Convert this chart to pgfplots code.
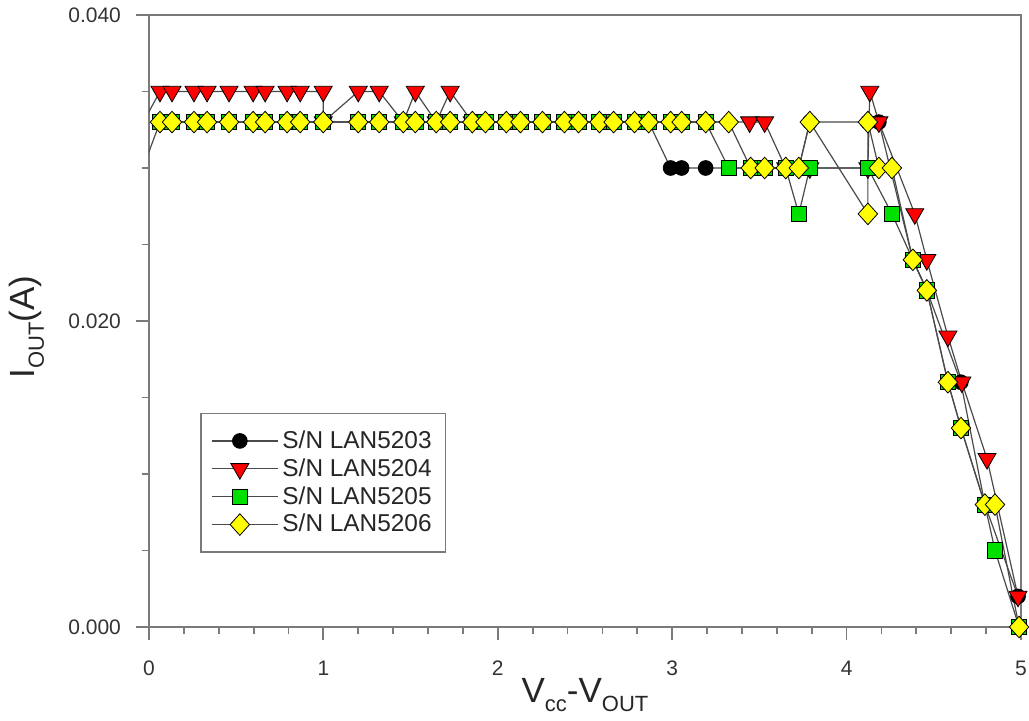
\documentclass[border=0pt]{standalone}
\usepackage{fontspec}
\setmainfont{Liberation Sans}
\usepackage{pgfplots}
\pgfplotsset{compat=1.18}

\definecolor{linegray}{HTML}{4A4A4A}
\definecolor{framegray}{HTML}{7A7A7A}
\definecolor{mkred}{HTML}{FF0000}
\definecolor{mkgreen}{HTML}{00E000}
\definecolor{mkyellow}{HTML}{FFFF00}

\newcommand\sub[1]{\raisebox{-4.5pt}{\fontsize{11}{12}\selectfont #1}}

\begin{document}
\begin{tikzpicture}
\path[use as bounding box] (-74.5pt,-47pt) rectangle (440pt,313.5pt);
\begin{axis}[
  at={(0pt,0pt)}, anchor=south west,
  scale only axis, width=436pt, height=306pt,
  xmin=0, xmax=5, ymin=0, ymax=0.04,
  xtick={0,1,2,3,4,5}, ytick={0,0.02,0.04},
  minor x tick num=4, minor y tick num=3,
  tick pos=left, tick align=outside,
  major tick length=6.5pt, minor tick length=3.5pt,
  axis line style={draw=framegray, line width=1pt},
  every tick/.style={framegray, line width=0.9pt},
  scaled y ticks=false,
  /pgf/number format/assume math mode=true,
  tick label style={font=\fontsize{10.5}{12}\selectfont, text=black!80},
  xticklabel style={yshift=-7pt},
  yticklabel style={xshift=-4pt, /pgf/number format/fixed,
    /pgf/number format/fixed zerofill, /pgf/number format/precision=3},
  xlabel={V\sub{cc}-V\sub{OUT}},
  ylabel={I\sub{OUT}(A)},
  label style={font=\fontsize{17.5}{19}\selectfont, text=black!85},
  xlabel style={at={(axis description cs:0.5,0)}, anchor=north, yshift=-25.5pt, inner sep=0pt},
  ylabel style={at={(axis description cs:-0.14,0.49)}, anchor=center, inner sep=0pt},
  clip=true,
  legend style={at={(rel axis cs:0.059,0.35)}, anchor=north west,
    draw=framegray, line width=0.8pt, fill=white,
    font=\fontsize{12.2}{14}\selectfont, text=black!85,
    inner xsep=5pt, inner ysep=6.5pt, row sep=-0.4pt,
    cells={anchor=west}},
  legend image code/.code={
    \path (0pt,0pt) -- (33pt,0pt);
    \draw[mark repeat=2,mark phase=2] plot coordinates {(0pt,0pt) (14pt,0pt) (28pt,0pt)};},
  every axis plot/.append style={draw=linegray, line width=0.6pt},
]

% S/N LAN5203
\addplot[mark=*, mark size=3.7pt, mark options={fill=black, draw=black, line width=0.4pt}]
coordinates {
(-0.1,0.028)
(0.063,0.033)(0.132,0.033)(0.258,0.033)(0.333,0.033)(0.459,0.033)(0.597,0.033)
(0.666,0.033)(0.792,0.033)(0.867,0.033)(0.999,0.033)(1.200,0.033)(1.320,0.033)
(1.458,0.033)(1.527,0.033)(1.647,0.033)(1.727,0.033)(1.854,0.033)(1.929,0.033)
(2.049,0.033)(2.130,0.033)(2.256,0.033)(2.382,0.033)(2.463,0.033)(2.583,0.033)
(2.664,0.033)(2.784,0.033)(2.865,0.033)
(2.991,0.030)(3.054,0.030)(3.192,0.030)(3.324,0.030)(3.450,0.030)(3.530,0.030)
(3.651,0.030)(3.726,0.030)(3.789,0.033)(4.122,0.033)(4.185,0.033)
(4.380,0.024)(4.460,0.022)(4.655,0.016)(4.793,0.008)(4.983,0.002)
};
\addlegendentry{S/N LAN5203}

% S/N LAN5204
\addplot[mark=triangle*, mark size=5.2pt, mark options={rotate=180, fill=mkred, draw=black, line width=0.4pt}]
coordinates {
(-0.1,0.0316)
(0.063,0.035)(0.132,0.035)(0.258,0.035)(0.333,0.035)(0.459,0.035)(0.597,0.035)
(0.666,0.035)(0.792,0.035)(0.867,0.035)(0.999,0.035)(0.999,0.033)(1.200,0.035)
(1.320,0.035)(1.458,0.033)(1.527,0.035)(1.647,0.033)(1.727,0.035)(1.854,0.033)
(3.444,0.033)(3.530,0.033)(3.651,0.030)(3.789,0.030)(4.122,0.030)(4.133,0.035)
(4.185,0.033)(4.391,0.027)(4.460,0.024)(4.581,0.019)(4.661,0.016)(4.805,0.011)
(4.983,0.002)
};
\addlegendentry{S/N LAN5204}

% S/N LAN5205
\addplot[mark=square*, mark size=3.8pt, mark options={fill=mkgreen, draw=black, line width=0.4pt}]
coordinates {
(0.063,0.033)(0.132,0.033)(0.258,0.033)(0.333,0.033)(0.459,0.033)(0.597,0.033)
(0.666,0.033)(0.792,0.033)(0.867,0.033)(0.999,0.033)(1.200,0.033)(1.320,0.033)
(1.458,0.033)(1.527,0.033)(1.647,0.033)(1.727,0.033)(1.854,0.033)(1.929,0.033)
(2.049,0.033)(2.130,0.033)(2.256,0.033)(2.382,0.033)(2.463,0.033)(2.583,0.033)
(2.664,0.033)(2.784,0.033)(2.865,0.033)(2.991,0.033)(3.054,0.033)(3.192,0.033)
(3.324,0.030)(3.450,0.030)(3.530,0.030)(3.651,0.030)(3.726,0.027)(3.789,0.030)
(4.122,0.030)(4.260,0.027)(4.380,0.024)(4.460,0.022)(4.581,0.016)(4.656,0.013)
(4.793,0.008)(4.851,0.005)(4.989,0.000)
};
\addlegendentry{S/N LAN5205}

% S/N LAN5206
\addplot[mark=diamond*, mark size=5.4pt, mark options={xscale=1.2, fill=mkyellow, draw=black, line width=0.4pt}]
coordinates {
(0.063,0.033)(0.132,0.033)(0.258,0.033)(0.333,0.033)(0.459,0.033)(0.597,0.033)
(0.666,0.033)(0.792,0.033)(0.867,0.033)(0.999,0.033)(1.200,0.033)(1.320,0.033)
(1.458,0.033)(1.527,0.033)(1.647,0.033)(1.727,0.033)(1.854,0.033)(1.929,0.033)
(2.049,0.033)(2.130,0.033)(2.256,0.033)(2.382,0.033)(2.463,0.033)(2.583,0.033)
(2.664,0.033)(2.784,0.033)(2.865,0.033)(2.991,0.033)(3.054,0.033)(3.192,0.033)
(3.324,0.033)(3.450,0.030)(3.530,0.030)(3.651,0.030)(3.726,0.030)(3.789,0.033)
(4.122,0.027)(4.122,0.033)(4.185,0.030)(4.260,0.030)(4.380,0.024)(4.460,0.022)
(4.581,0.016)(4.656,0.013)(4.793,0.008)(4.851,0.008)(4.989,0.000)
};
\addlegendentry{S/N LAN5206}

\end{axis}
\end{tikzpicture}
\end{document}
